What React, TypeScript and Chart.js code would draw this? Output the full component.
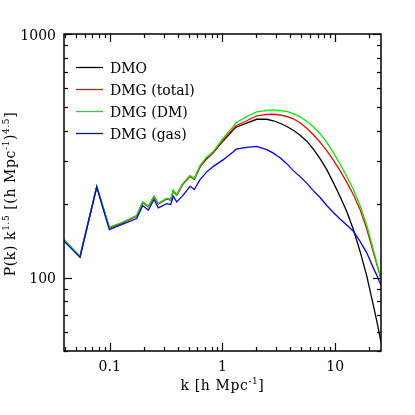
import React, { useEffect, useRef } from "react";
import { Chart, registerables } from "chart.js";

Chart.register(...registerables);

// wavenumber k [h Mpc^-1]
const kValues = [
  0.0393, 0.0545, 0.0767, 0.0992, 0.1286, 0.1736, 0.1963, 0.2201, 0.2472, 0.2699,
  0.3204, 0.3478, 0.3667, 0.393, 0.4443, 0.516, 0.563, 0.6326, 0.7152, 0.8304,
  1.019, 1.249, 1.32,
  1.643, 2.015, 2.472, 2.829, 3.244, 3.72, 4.257, 4.883, 5.598, 6.406,
  7.345, 8.424, 9.638, 11.05, 12.67, 14.5, 16.63, 19.08, 21.69, 23.54, 25.5,
];

// P(k) k^1.5 for each run
const dmo = [
  142.8, 122.0, 236.5, 160.5, 167.8, 179.2, 204.0, 195.8, 215.0, 200.8,
  211.0, 208.5, 227.5, 218.5, 242.0, 261.0, 254.0, 285.5, 305.0, 325.8,
  364.8, 404.7, 414.3,
  431.0, 446.7, 446.7, 440.5, 430.2, 417.4, 402.7, 384.2, 363.1, 336.7,
  307.9, 277.5, 245.5, 215.2, 186.8, 157.6, 128.2, 101.5, 77.8, 65.6, 54.3,
];
const dmgTotal = [
  142.5, 121.8, 236.0, 160.0, 167.5, 179.0, 203.5, 195.5, 214.5, 200.5,
  210.5, 208.0, 227.0, 218.0, 241.5, 260.0, 253.0, 285.5, 306.5, 325.8,
  368.2, 408.5, 420.2,
  440.5, 461.7, 468.3, 469.1, 465.2, 458.6, 448.8, 432.2, 410.4, 386.0,
  359.7, 332.0, 303.6, 274.9, 246.7, 219.3, 190.4, 158.4, 128.2, 112.3, 98.9,
];
const dmgDM = [
  143.5, 122.6, 237.1, 161.1, 168.4, 179.9, 204.7, 196.4, 215.8, 201.4,
  211.8, 209.2, 228.4, 219.3, 243.2, 262.3, 255.0, 288.2, 310.8, 329.8,
  374.2, 417.4, 432.2,
  458.6, 479.4, 486.3, 488.6, 486.3, 480.8, 471.3, 457.3, 438.4, 416.2,
  389.7, 359.7, 325.8, 292.3, 260.6, 229.9, 197.7, 163.7, 131.8, 113.9, 99.3,
];
const dmgGas = [
  141.2, 121.4, 235.4, 157.6, 165.3, 174.9, 197.7, 189.1, 209.2, 193.5,
  201.4, 199.6, 215.8, 204.7, 217.2, 237.1, 229.9, 252.6, 269.8, 286.3,
  305.0, 328.9, 336.7,
  342.5, 345.7, 335.1, 324.3, 310.8, 293.7, 274.9, 259.8, 244.4, 227.7,
  213.2, 197.7, 185.0, 174.1, 164.5, 155.1, 140.8, 126.4, 110.2, 101.7, 93.0,
];

const seriesNames = ["DMO", "DMG (total)", "DMG (DM)", "DMG (gas)"];
const seriesColors = ["#000000", "#ff0000", "#00f000", "#0000ff"];
const seriesValues = [dmo, dmgTotal, dmgDM, dmgGas];

const xTickValues = [0.1, 1, 10];
const xTickLabels = ["0.1", "1", "10"];
const yTickValues = [100, 1000];
const yTickLabels = ["100", "1000"];

const X_MIN = 0.0393;
const X_MAX = 25.5;
const Y_MIN = 50;
const Y_MAX = 1000;

const FONT = "DejaVu Serif";

type Part = { t: string; sup?: boolean };

function partsWidth(ctx: CanvasRenderingContext2D, parts: Part[], size: number, supSize: number) {
  let w = 0;
  for (const p of parts) {
    ctx.font = `${p.sup ? supSize : size}px "${FONT}"`;
    w += ctx.measureText(p.t).width;
  }
  return w;
}

function drawParts(ctx: CanvasRenderingContext2D, parts: Part[], x: number, y: number, size: number, supSize: number, raise: number) {
  let cx = x;
  ctx.textAlign = "left";
  ctx.textBaseline = "alphabetic";
  for (const p of parts) {
    ctx.font = `${p.sup ? supSize : size}px "${FONT}"`;
    ctx.fillText(p.t, cx, p.sup ? y - raise : y);
    cx += ctx.measureText(p.t).width;
  }
}

const xTitle: Part[] = [{ t: "k [h Mpc" }, { t: "-1", sup: true }, { t: "]" }];
const yTitle: Part[] = [
  { t: "P(k) k" },
  { t: "1.5", sup: true },
  { t: " [(h Mpc" },
  { t: "-1", sup: true },
  { t: ")" },
  { t: "4.5", sup: true },
  { t: "]" },
];

const decorPlugin = {
  id: "decor",
  afterDraw(chart: any) {
    const { ctx, chartArea: a, scales } = chart;
    const xs = scales.x;
    const ys = scales.y;
    ctx.save();
    ctx.strokeStyle = "#000";
    ctx.fillStyle = "#000";
    ctx.lineWidth = 1.2;
    const seg = (x1: number, y1: number, x2: number, y2: number) => {
      ctx.beginPath();
      ctx.moveTo(x1, y1);
      ctx.lineTo(x2, y2);
      ctx.stroke();
    };
    // x ticks (bottom and top, inward)
    for (let e = -2; e <= 1; e++) {
      for (let m = 1; m <= 9; m++) {
        const v = m * Math.pow(10, e);
        if (v < X_MIN || v > X_MAX) continue;
        const px = Math.round(xs.getPixelForValue(v)) + 0.5;
        const len = m === 1 ? 8 : 4;
        seg(px, a.bottom, px, a.bottom - len);
        seg(px, a.top, px, a.top + len);
      }
    }
    // y ticks (left and right, inward)
    for (let e = 1; e <= 3; e++) {
      for (let m = 1; m <= 9; m++) {
        const v = m * Math.pow(10, e);
        if (v < Y_MIN || v > Y_MAX) continue;
        const py = Math.round(ys.getPixelForValue(v)) + 0.5;
        const len = m === 1 ? 8 : 4;
        seg(a.left, py, a.left + len, py);
        seg(a.right, py, a.right - len, py);
      }
    }
    // frame
    ctx.lineWidth = 1.5;
    ctx.strokeRect(a.left, a.top, a.right - a.left, a.bottom - a.top);

    // tick labels
    ctx.font = `14px "${FONT}"`;
    ctx.textBaseline = "alphabetic";
    ctx.textAlign = "center";
    xTickValues.forEach((v, i) => {
      ctx.fillText(xTickLabels[i], xs.getPixelForValue(v), a.bottom + 20);
    });
    ctx.textAlign = "right";
    yTickValues.forEach((v, i) => {
      ctx.fillText(yTickLabels[i], a.left - 8, ys.getPixelForValue(v) + 5.5);
    });

    // axis titles with slightly wider spacing
    (ctx as any).letterSpacing = "0.6px";
    const xw = partsWidth(ctx, xTitle, 14, 9);
    drawParts(ctx, xTitle, (a.left + a.right) / 2 - xw / 2, a.bottom + 39, 14, 9, 6);

    const yw = partsWidth(ctx, yTitle, 14, 9);
    ctx.save();
    ctx.translate(15, 194);
    ctx.rotate(-Math.PI / 2);
    drawParts(ctx, yTitle, -yw / 2, 0, 14, 9, 6);
    ctx.restore();
    (ctx as any).letterSpacing = "0px";

    // legend
    seriesNames.forEach((name, i) => {
      const ry = a.top + 33.5 + i * 22;
      ctx.strokeStyle = seriesColors[i];
      ctx.lineWidth = 1.3;
      seg(a.left + 12, ry, a.left + 39, ry);
      ctx.fillStyle = "#000";
      ctx.font = `14px "${FONT}"`;
      ctx.textAlign = "left";
      ctx.fillText(name, a.left + 46, ry + 5);
    });
    ctx.restore();
  },
};

export default function App() {
  const ref = useRef<HTMLCanvasElement | null>(null);
  useEffect(() => {
    if (!ref.current) return;
    const order = [4, 3, 2, 1];
    const chart = new Chart(ref.current, {
      type: "line",
      data: {
        datasets: seriesValues.map((vals, si) => ({
          label: seriesNames[si],
          data: kValues.map((k, i) => ({ x: k, y: vals[i] })),
          borderColor: seriesColors[si],
          borderWidth: 1.3,
          pointRadius: 0,
          tension: 0,
          fill: false,
          order: order[si],
        })),
      },
      options: {
        animation: false,
        responsive: false,
        devicePixelRatio: 1,
        layout: { padding: { top: 34, right: 34, left: 0, bottom: 0 } },
        plugins: { legend: { display: false }, tooltip: { enabled: false }, title: { display: false } },
        scales: {
          x: {
            type: "logarithmic",
            min: X_MIN,
            max: X_MAX,
            grid: { display: false },
            border: { display: false },
            ticks: { display: false },
            afterFit: (s: any) => {
              s.height = 64;
            },
          },
          y: {
            type: "logarithmic",
            min: Y_MIN,
            max: Y_MAX,
            grid: { display: false },
            border: { display: false },
            ticks: { display: false },
            afterFit: (s: any) => {
              s.width = 64;
            },
          },
        },
      } as any,
      plugins: [decorPlugin],
    });
    return () => chart.destroy();
  }, []);
  return (
    <div style={{ position: "fixed", left: 0, top: 0, width: 415, height: 415, background: "#fff" }}>
      <canvas ref={ref} width={415} height={415} style={{ width: 415, height: 415, display: "block" }} />
    </div>
  );
}
